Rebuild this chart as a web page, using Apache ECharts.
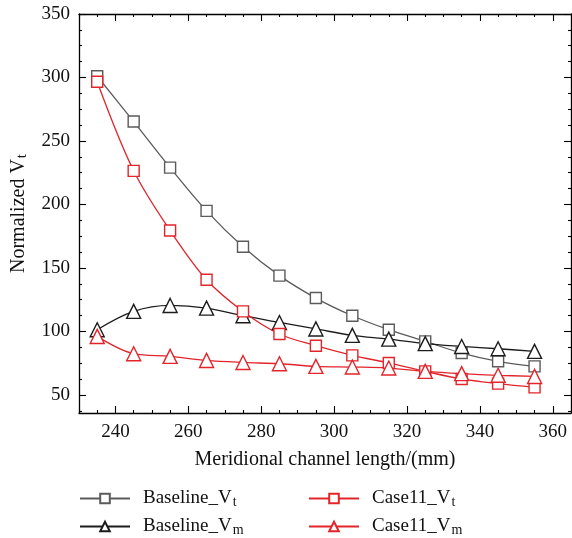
<!DOCTYPE html>
<html>
<head>
<meta charset="utf-8">
<script src="https://cdn.jsdelivr.net/npm/echarts@6/dist/echarts.min.js"></script>
<style>
  html, body { margin: 0; padding: 0; background: #fff; }
  #chart { width: 572px; height: 538px; }
</style>
</head>
<body>
<div id="chart"></div>
<script>
// Meridional channel length (mm)
const lengths = [235, 245, 255, 265, 275, 285, 295, 305, 315, 325, 335, 345, 355];

// Normalized velocity components
const baselineVt = [301, 265.3, 229, 195, 166.7, 144, 126.3, 112.4, 101.4, 92.2, 83, 76.5, 72.5];
const baselineVm = [101.4, 115.8, 120.5, 118.4, 112.4, 107.1, 102, 96.9, 94, 90.4, 88.2, 86.4, 84.3];
const case11Vt = [296.7, 226.5, 179.5, 140.7, 115.8, 98, 88.8, 81.2, 75.2, 68.6, 62.6, 58.9, 56];
const case11Vm = [96.1, 82.5, 80.4, 77.2, 75.6, 74.6, 72.5, 72, 71.2, 68.6, 66.8, 65.5, 64.6];

// Tick positions
const xMajorTicks = [240, 260, 280, 300, 320, 340, 360];
const xMinorTicks = [230, 235, 245, 250, 255, 265, 270, 275, 285, 290, 295, 305, 310, 315, 325, 330, 335, 345, 350, 355, 365];
const yMajorTicks = [50, 100, 150, 200, 250, 300, 350];
const yMinorTicks = [37.5, 62.5, 75, 87.5, 112.5, 125, 137.5, 162.5, 175, 187.5, 212.5, 225, 237.5, 262.5, 275, 287.5, 312.5, 325, 337.5];

const X_MIN = 230, X_MAX = 365, Y_MIN = 35.8, Y_MAX = 350;

const FONT = '"Liberation Serif", "DejaVu Serif", serif';
const GRAY = '#5b5b5b';
const BLACK = '#1c1c1c';
const RED = '#e2252b';

function toPairs(vals) { return lengths.map((x, i) => [x, vals[i]]); }

function xAx(position, ticks, len, showLabel, withLine) {
  return {
    type: 'value', position, min: X_MIN, max: X_MAX,
    axisLine: { show: withLine, onZero: false, lineStyle: { color: '#000', width: 1.3 } },
    axisTick: { show: true, inside: true, length: len, customValues: ticks, lineStyle: { color: '#000', width: 1.1 } },
    axisLabel: showLabel ? { show: true, customValues: ticks, margin: 10, color: '#111', fontSize: 19, fontFamily: FONT } : { show: false },
    splitLine: { show: false }
  };
}
function yAx(position, ticks, len, showLabel, withLine) {
  return {
    type: 'value', position, min: Y_MIN, max: Y_MAX,
    axisLine: { show: withLine, onZero: false, lineStyle: { color: '#000', width: 1.3 } },
    axisTick: { show: true, inside: true, length: len, customValues: ticks, lineStyle: { color: '#000', width: 1.1 } },
    axisLabel: showLabel ? { show: true, customValues: ticks, margin: 9, color: '#111', fontSize: 19, fontFamily: FONT } : { show: false },
    splitLine: { show: false }
  };
}

const xAxes = [
  xAx('bottom', xMajorTicks, 7, true, true),
  xAx('bottom', xMinorTicks, 3, false, false),
  xAx('top', xMajorTicks, 7, false, true),
  xAx('top', xMinorTicks, 3, false, false)
];
Object.assign(xAxes[0], {
  name: 'Meridional channel length/(mm)', nameLocation: 'middle', nameGap: 37,
  nameTextStyle: { color: '#111', fontSize: 20, fontFamily: FONT }
});
const yAxes = [
  yAx('left', yMajorTicks, 7, true, true),
  yAx('left', yMinorTicks, 3, false, false),
  yAx('right', yMajorTicks, 7, false, true),
  yAx('right', yMinorTicks, 3, false, false)
];
Object.assign(yAxes[0], {
  name: '{n|Normalized V}{s|t}', nameLocation: 'middle', nameGap: 49, nameRotate: 90,
  nameTextStyle: {
    color: '#111', fontSize: 20, fontFamily: FONT,
    rich: {
      n: { fontSize: 20, fontFamily: FONT, color: '#111' },
      s: { fontSize: 15, fontFamily: FONT, color: '#111', verticalAlign: 'bottom', padding: [8, 0, 0, 1] }
    }
  }
});

function lineSeries(name, vals, color, symbol, size) {
  return {
    name, type: 'line', xAxisIndex: 0, yAxisIndex: 0,
    data: toPairs(vals), smooth: 0.35,
    symbol, symbolSize: size, showSymbol: true,
    lineStyle: { color, width: 1.3 },
    itemStyle: { color: '#fff', borderColor: color, borderWidth: 1.4 },
    emphasis: { disabled: true }
  };
}

const legendRich = {
  b: { fontSize: 19, fontFamily: FONT, color: '#111' },
  s: { fontSize: 14, fontFamily: FONT, color: '#111', verticalAlign: 'bottom', padding: [7, 0, 0, 1] }
};
function legendFmt(name) {
  const [base, sub] = name.split('|');
  return '{b|' + base + '}{s|' + sub + '}';
}
// one legend block per entry, laid out as a 2 x 2 table
function legend(left, top, name) {
  return {
    data: [name], left, top, orient: 'horizontal', padding: 0,
    itemWidth: 50, itemHeight: 12, selectedMode: false,
    formatter: legendFmt, textStyle: { rich: legendRich, padding: [0, 0, 0, 8] }
  };
}

const chart = echarts.init(document.getElementById('chart'), null, { renderer: 'canvas' });
chart.setOption({
  backgroundColor: '#fff',
  animation: false,
  grid: { left: 79, right: 1, top: 14, bottom: 125, containLabel: false, outerBoundsMode: 'none' },
  xAxis: xAxes,
  yAxis: yAxes,
  legend: [
    legend(79, 489, 'Baseline_V|t'),
    legend(79, 517, 'Baseline_V|m'),
    legend(308, 489, 'Case11_V|t'),
    legend(308, 517, 'Case11_V|m')
  ],
  series: [
    lineSeries('Baseline_V|t', baselineVt, GRAY, 'rect', 11),
    lineSeries('Baseline_V|m', baselineVm, BLACK, 'triangle', 14),
    lineSeries('Case11_V|t', case11Vt, RED, 'rect', 11),
    lineSeries('Case11_V|m', case11Vm, RED, 'triangle', 14)
  ]
});
</script>
</body>
</html>
